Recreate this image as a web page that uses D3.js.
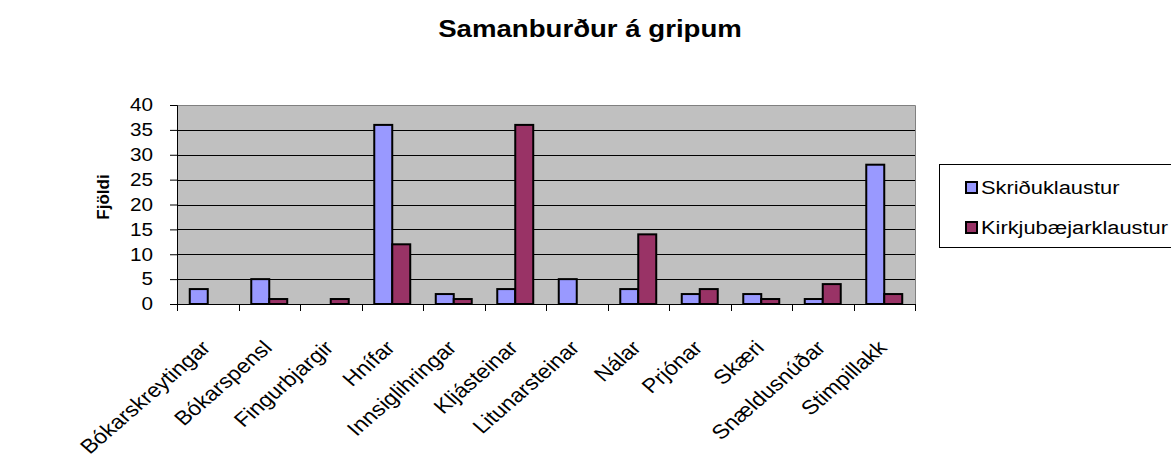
<!DOCTYPE html>
<html>
<head>
<meta charset="utf-8">
<script src="https://cdn.jsdelivr.net/npm/d3@7"></script>
<style>
  body { margin: 0; background: #fff; }
  text { font-family: "Liberation Sans", Arial, sans-serif; }
</style>
</head>
<body>
<div id="chart"></div>
<script>
// data
var categories = ["Bókarskreytingar", "Bókarspensl", "Fingurbjargir", "Hnífar", "Innsiglihringar",
  "Kljásteinar", "Litunarsteinar", "Nálar", "Prjónar", "Skæri", "Snældusnúðar", "Stimpillakk"]
var seriesNames = ["Skriðuklaustur", "Kirkjubæjarklaustur"]
var skridu = [3, 5, 0, 36, 2, 3, 5, 3, 2, 2, 1, 28]
var kirkju = [0, 1, 1, 12, 1, 36, 0, 14, 3, 1, 4, 2]
var yTicks = [0, 5, 10, 15, 20, 25, 30, 35, 40]

var colors = ["#9999FF", "#993366"]
var stretch = 1.15  // the original picture is a bit wider than tall text would be

var W = 1171, H = 464
var plot = { left: 177, right: 915, top: 105, bottom: 304 }

var svg = d3.select("#chart")
  .append("svg")
  .attr("width", W)
  .attr("height", H)

var x0 = d3.scaleBand()
  .domain(categories)
  .range([plot.left, plot.right])
  .paddingInner(0.415)
  .paddingOuter(0.2075)

var x1 = d3.scaleBand()
  .domain(seriesNames)
  .range([0, x0.bandwidth()])

var y = d3.scaleLinear()
  .domain([0, 40])
  .range([plot.bottom, plot.top])

// plot background
svg.append("rect")
  .attr("x", plot.left)
  .attr("y", plot.top)
  .attr("width", plot.right - plot.left)
  .attr("height", plot.bottom - plot.top)
  .attr("fill", "#C0C0C0")

// gridlines
svg.append("g")
  .selectAll("line")
  .data(yTicks.filter(function (d) { return d > 0 && d < 40; }))
  .enter()
  .append("line")
  .attr("x1", plot.left)
  .attr("x2", plot.right)
  .attr("y1", function (d) { return Math.round(y(d)) + 0.5; })
  .attr("y2", function (d) { return Math.round(y(d)) + 0.5; })
  .attr("stroke", "#000")
  .attr("stroke-width", 1)

// top and right border of plot area
svg.append("path")
  .attr("d", "M" + plot.left + "," + (plot.top + 0.5) + "H" + (plot.right + 0.5) + "V" + plot.bottom)
  .attr("fill", "none")
  .attr("stroke", "#808080")
  .attr("stroke-width", 1)

// bars
var data = categories.map(function (c, i) {
  return { cat: c, vals: [skridu[i], kirkju[i]] }
})

svg.append("g")
  .selectAll("g")
  .data(data)
  .enter()
  .append("g")
  .attr("transform", function (d) { return "translate(" + x0(d.cat) + ",0)"; })
  .selectAll("rect")
  .data(function (d) { return d.vals.map(function (v, j) { return { name: seriesNames[j], v: v, j: j }; }); })
  .enter()
  .filter(function (d) { return d.v > 0; })
  .append("rect")
  .attr("x", function (d) { return x1(d.name); })
  .attr("y", function (d) { return y(d.v); })
  .attr("width", x1.bandwidth())
  .attr("height", function (d) { return y(0) - y(d.v); })
  .attr("fill", function (d) { return colors[d.j]; })
  .attr("stroke", "#000")
  .attr("stroke-width", 2)

// y axis
var yAxis = svg.append("g")
  .attr("transform", "translate(" + plot.left + ",0)")
  .call(d3.axisLeft(y).tickValues(yTicks).tickSize(7).tickPadding(17))
yAxis.select(".domain").attr("stroke", "#000").attr("stroke-width", 1)
yAxis.selectAll(".tick line").attr("stroke", "#000")
yAxis.selectAll("text")
  .attr("font-size", 18)
  .attr("fill", "#000")
  .attr("font-family", "'Liberation Sans', Arial, sans-serif")
  .attr("transform", function () {
    return "scale(" + stretch + ",1)"
  })
  .attr("x", -24 / stretch)

// x axis: ticks at category boundaries
var bounds = d3.range(categories.length + 1).map(function (i) {
  return plot.left + i * x0.step()
})
svg.append("line")
  .attr("x1", plot.left).attr("x2", plot.right)
  .attr("y1", plot.bottom + 0.5).attr("y2", plot.bottom + 0.5)
  .attr("stroke", "#000")
svg.append("g")
  .selectAll("line")
  .data(bounds)
  .enter()
  .append("line")
  .attr("x1", function (d) { return Math.round(d) + 0.5; })
  .attr("x2", function (d) { return Math.round(d) + 0.5; })
  .attr("y1", plot.bottom)
  .attr("y2", plot.bottom + 7)
  .attr("stroke", "#000")

// x labels
svg.append("g")
  .selectAll("text")
  .data(categories)
  .enter()
  .append("text")
  .attr("transform", function (d) {
    var cx = x0(d) + x0.bandwidth() / 2
    return "translate(" + (cx + 4) + "," + 349 + ") scale(" + stretch + ",1) rotate(-45)"
  })
  .attr("text-anchor", "end")
  .attr("font-size", 20)
  .text(function (d) { return d; })

// title
svg.append("text")
  .attr("transform", "translate(590,37) scale(" + stretch + ",1)")
  .attr("text-anchor", "middle")
  .attr("font-size", 24)
  .attr("font-weight", "bold")
  .text("Samanburður á gripum")

// y axis title
svg.append("text")
  .attr("transform", "translate(109,197) rotate(-90)")
  .attr("text-anchor", "middle")
  .attr("font-size", 17)
  .attr("font-weight", "bold")
  .text("Fjöldi")

// legend
svg.append("rect")
  .attr("x", 939.5)
  .attr("y", 164.5)
  .attr("width", 260)
  .attr("height", 83)
  .attr("fill", "#fff")
  .attr("stroke", "#000")
var legend = svg.append("g")
var items = legend.selectAll("g")
  .data(seriesNames)
  .enter()
  .append("g")
  .attr("transform", function (d, i) { return "translate(966," + (182 + i * 40) + ")"; })
items.append("rect")
  .attr("width", 11)
  .attr("height", 11)
  .attr("fill", function (d, i) { return colors[i]; })
  .attr("stroke", "#000")
  .attr("stroke-width", 2)
items.append("text")
  .attr("transform", "translate(15,12) scale(" + stretch + ",1)")
  .attr("font-size", 19)
  .text(function (d) { return d; })
</script>
</body>
</html>
